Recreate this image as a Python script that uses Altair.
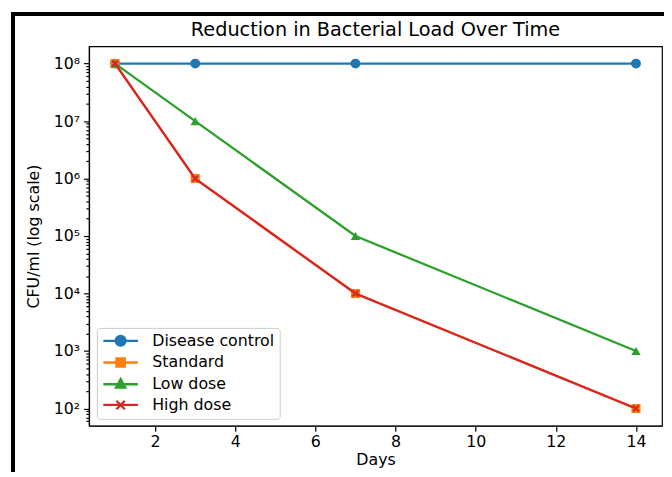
import altair as alt
import pandas as pd

days = [1, 3, 7, 14]
series = ["Disease control", "Standard", "Low dose", "High dose"]
disease_control = [1e8, 1e8, 1e8, 1e8]
standard = [1e8, 1e6, 1e4, 1e2]
low_dose = [1e8, 1e7, 1e5, 1e3]
high_dose = [1e8, 1e6, 1e4, 1e2]
colors = ["#1f77b4", "#ff7f0e", "#2ca02c", "#d62728"]
title_text = "Reduction in Bacterial Load Over Time"

values = [disease_control, standard, low_dose, high_dose]
rows = []
for s, vals in zip(series, values):
    for d, v in zip(days, vals):
        rows.append({"Day": d, "CFU": v, "Series": s})
df = pd.DataFrame(rows)

x_scale = alt.Scale(domain=[0.35, 14.65], nice=False, zero=False)
y_scale = alt.Scale(type="log", domain=[10 ** 1.7, 10 ** 8.3], nice=False)

y_ticks = []
for e in range(1, 9):
    for m in range(1, 10):
        v = m * 10 ** e
        if 10 ** 1.7 <= v <= 10 ** 8.3:
            y_ticks.append(v)

is_decade = "abs(log(datum.value)/LN10 - round(log(datum.value)/LN10)) < 0.001"
y_axis = alt.Axis(
    title="CFU/ml (log scale)",
    values=y_ticks,
    labelExpr=is_decade + " ? '10' + ['⁰','¹','²','³','⁴','⁵','⁶','⁷','⁸','⁹'][round(log(datum.value)/LN10)] : ''",
    tickSize={"condition": {"test": is_decade, "value": 5.5}, "value": 3.2},
    grid=False,
    titlePadding=12,
    labelPadding=4,
)
x_axis = alt.Axis(title="Days", values=[2, 4, 6, 8, 10, 12, 14], grid=False,
                  tickSize=5.5, labelPadding=3, titlePadding=2, labelAngle=0)

X = alt.X("Day:Q", scale=x_scale, axis=x_axis)
Y = alt.Y("CFU:Q", scale=y_scale, axis=y_axis)

marker_shapes = ["circle", "square", "triangle-up", "M-1,-1L1,1M-1,1L1,-1"]
layers = []
for s, c, shp in zip(series, colors, marker_shapes):
    base = alt.Chart(df).transform_filter(alt.datum.Series == s)
    line = base.mark_line(color=c, strokeWidth=2.3).encode(x=X, y=Y)
    if s == "High dose":
        pt = base.mark_point(shape=shp, color=c, filled=False, strokeWidth=2.2,
                             size=36, opacity=1).encode(x=X, y=Y)
    else:
        size = 100 if shp == "circle" else (85 if shp == "square" else 90)
        pt = base.mark_point(shape=shp, color=c, filled=True, size=size,
                             opacity=1).encode(x=X, y=Y)
    layers += [line, pt]

# legend symbols: line segment + marker (unit = 5 px with size 100)
legend_paths = [
    "M-3.5,0L3.5,0M1,0A1,1,0,1,1,-1,0A1,1,0,1,1,1,0Z",
    "M-3.5,0L3.5,0M-0.85,-0.85L0.85,-0.85L0.85,0.85L-0.85,0.85Z",
    "M-3.5,0L3.5,0M0,-1.05L0.95,0.7L-0.95,0.7Z",
    "M-3.5,0L3.5,0M-0.85,-0.85L0.85,0.85M-0.85,0.85L0.85,-0.85",
]
leg = alt.Legend(title=None, orient="none", legendX=8, legendY=285,
                 labelFont="DejaVu Sans", labelFontSize=16, labelColor="black",
                 symbolSize=100, symbolStrokeWidth=2.3, symbolOffset=11,
                 labelOffset=24, padding=5, rowPadding=3,
                 fillColor="rgba(255,255,255,0.8)",
                 strokeColor="#cccccc", cornerRadius=3)
legend_layer = alt.Chart(df).transform_filter("false").mark_point(
    filled=True, strokeWidth=2.3, opacity=1
).encode(
    x=X, y=Y,
    color=alt.Color("Series:N", scale=alt.Scale(domain=series, range=colors), legend=leg),
    stroke=alt.Stroke("Series:N", scale=alt.Scale(domain=series, range=colors), legend=leg),
    shape=alt.Shape("Series:N", scale=alt.Scale(domain=series, range=legend_paths), legend=leg),
)

title_layer = alt.Chart(pd.DataFrame({"t": [title_text]})).mark_text(
    font="DejaVu Sans", fontSize=19.5, color="black", baseline="middle", align="center"
).encode(text="t:N", x=alt.value(290), y=alt.value(-16))

border_v = alt.Chart(df).mark_rule(color="black", strokeWidth=3).encode(
    x=alt.value(-77), y=alt.value(-34), y2=alt.value(440))
border_h = alt.Chart(df).mark_rule(color="black", strokeWidth=3).encode(
    x=alt.value(-78), x2=alt.value(600), y=alt.value(-33))

chart = alt.layer(*layers, legend_layer, title_layer, border_v, border_h).properties(
    width=580, height=384,
    autosize=alt.AutoSizeParams(type="none"),
    padding={"left": 82, "top": 36, "right": 2, "bottom": 44},
    background="white",
).configure_view(stroke="black", strokeWidth=1.2).configure_axis(
    domainColor="black", tickColor="black", labelColor="black", titleColor="black",
    labelFont="DejaVu Sans", titleFont="DejaVu Sans", labelFontSize=16,
    titleFontSize=16, titleFontWeight="normal", domainWidth=1.2, tickWidth=1.2,
)

chart.save("out.html", embed_options={"renderer": "svg", "actions": False})
